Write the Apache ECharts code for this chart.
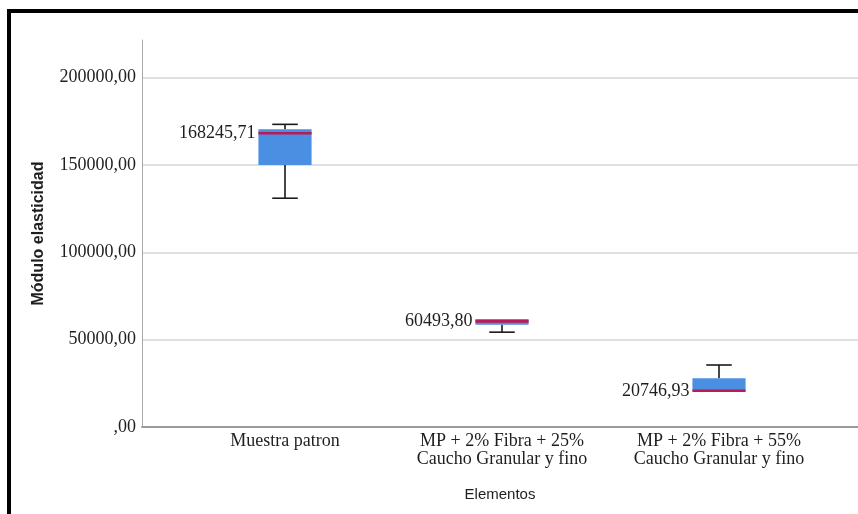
<!DOCTYPE html>
<html>
<head>
<meta charset="utf-8">
<script src="https://cdn.jsdelivr.net/npm/echarts@6/dist/echarts.min.js"></script>
<style>
  html, body { margin: 0; padding: 0; background: #ffffff; }
  #chart { width: 858px; height: 514px; }
</style>
</head>
<body>
<div id="chart"></div>
<script>
// Categories (groups tested)
const categories = [
  'Muestra patron',
  'MP + 2% Fibra + 25%\nCaucho Granular y fino',
  'MP + 2% Fibra + 55%\nCaucho Granular y fino'
];

// Box-plot statistics per group
const whiskerLow  = [131000, 54300, 20746.93];
const quartile1   = [150000, 58500, 20746.93];
const medians     = [168245.71, 60493.80, 20746.93];
const quartile3   = [170500, 61800, 27900];
const whiskerHigh = [173300, 61800, 35500];
const medianLabels = ['168245,71', '60493,80', '20746,93'];

// Value axis ticks and their printed labels
const yTicks = [0, 50000, 100000, 150000, 200000];
const yTickLabels = [',00', '50000,00', '100000,00', '150000,00', '200000,00'];
const yMax = 221600;

const SERIF = '"Liberation Serif", "Times New Roman", serif';
const SANS = '"Liberation Sans", Arial, sans-serif';

const boxData = categories.map((c, i) => [
  i, whiskerLow[i], quartile1[i], medians[i], quartile3[i], whiskerHigh[i]
]);

function renderBox(params, api) {
  const idx = api.value(0);
  const pLow = api.coord([idx, api.value(1)]);
  const pQ1 = api.coord([idx, api.value(2)]);
  const pMed = api.coord([idx, api.value(3)]);
  const pQ3 = api.coord([idx, api.value(4)]);
  const pHigh = api.coord([idx, api.value(5)]);
  const band = api.size([1, 0])[0];
  const cx = pMed[0];
  const boxW = band * 0.245;
  const capW = boxW * 0.48;
  const whiskerStyle = { stroke: '#1a1a1a', lineWidth: 1.6 };
  const children = [];

  // whiskers sit behind the box
  if (api.value(5) > api.value(4)) {
    children.push({ type: 'line', shape: { x1: cx, y1: pQ3[1], x2: cx, y2: pHigh[1] }, style: whiskerStyle });
    children.push({ type: 'line', shape: { x1: cx - capW / 2, y1: pHigh[1], x2: cx + capW / 2, y2: pHigh[1] }, style: whiskerStyle });
  }
  if (api.value(1) < api.value(2)) {
    children.push({ type: 'line', shape: { x1: cx, y1: pQ1[1], x2: cx, y2: pLow[1] }, style: whiskerStyle });
    children.push({ type: 'line', shape: { x1: cx - capW / 2, y1: pLow[1], x2: cx + capW / 2, y2: pLow[1] }, style: whiskerStyle });
  }

  // interquartile box
  children.push({
    type: 'rect',
    shape: { x: cx - boxW / 2, y: pQ3[1], width: boxW, height: pQ1[1] - pQ3[1] },
    style: { fill: '#4b8fe2' }
  });

  // median line
  children.push({
    type: 'line',
    shape: { x1: cx - boxW / 2, y1: pMed[1], x2: cx + boxW / 2, y2: pMed[1] },
    style: { stroke: '#bb1a55', lineWidth: 2.6 }
  });

  // median value label
  children.push({
    type: 'text',
    x: cx - boxW / 2 - 3,
    y: pMed[1],
    style: {
      text: medianLabels[idx],
      align: 'right',
      verticalAlign: 'middle',
      font: '18px ' + SERIF,
      fill: '#1e1e1e'
    }
  });

  return { type: 'group', children: children };
}

const chart = echarts.init(document.getElementById('chart'));

chart.setOption({
  backgroundColor: '#ffffff',
  animation: false,
  graphic: [{
    type: 'rect',
    shape: { x: 9, y: 11, width: 900, height: 600 },
    style: { fill: 'none', stroke: '#000000', lineWidth: 4 },
    z: 100
  }],
  grid: [
    { left: 142, right: 0, top: 40, bottom: 87 },
    { left: 176.5, right: 30.5, top: 40, bottom: 87 }
  ],
  xAxis: [
    {
      gridIndex: 0,
      type: 'value',
      min: 0,
      max: 1,
      name: 'Elementos',
      nameLocation: 'middle',
      nameGap: 60,
      nameTextStyle: { fontFamily: SANS, fontSize: 15, color: '#1e1e1e' },
      axisLine: { show: true, lineStyle: { color: '#9a9a9a', width: 2 } },
      axisTick: { show: false },
      axisLabel: { show: false },
      splitLine: { show: false }
    },
    {
      gridIndex: 1,
      type: 'category',
      data: categories,
      axisLine: { show: false },
      axisTick: { show: false },
      splitLine: { show: false },
      axisLabel: {
        interval: 0,
        hideOverlap: false,
        margin: 5,
        fontFamily: SERIF,
        fontSize: 18,
        lineHeight: 18,
        color: '#1e1e1e'
      }
    }
  ],
  yAxis: [
    {
      gridIndex: 0,
      type: 'value',
      min: 0,
      max: yMax,
      interval: 50000,
      name: 'Módulo elasticidad',
      nameLocation: 'middle',
      nameGap: 95,
      nameTextStyle: { fontFamily: SANS, fontSize: 16, fontWeight: 'bold', color: '#1e1e1e' },
      axisLine: { show: true, lineStyle: { color: '#a8a8a8', width: 1 } },
      axisTick: { show: false },
      axisLabel: {
        margin: 6,
        showMaxLabel: false,
        fontFamily: SERIF,
        fontSize: 18,
        color: '#1e1e1e',
        formatter: function (v) {
          const k = yTicks.indexOf(v);
          return k >= 0 ? yTickLabels[k] : '';
        }
      },
      splitLine: {
        show: true,
        showMinLine: false,
        showMaxLine: false,
        lineStyle: { color: '#d6d6d6', width: 1.5 }
      }
    },
    {
      gridIndex: 1,
      type: 'value',
      min: 0,
      max: yMax,
      show: false,
      splitLine: { show: false }
    }
  ],
  series: [{
    type: 'custom',
    xAxisIndex: 1,
    yAxisIndex: 1,
    renderItem: renderBox,
    encode: { x: 0, y: [1, 2, 3, 4, 5] },
    data: boxData,
    z: 5
  }]
});
</script>
</body>
</html>
